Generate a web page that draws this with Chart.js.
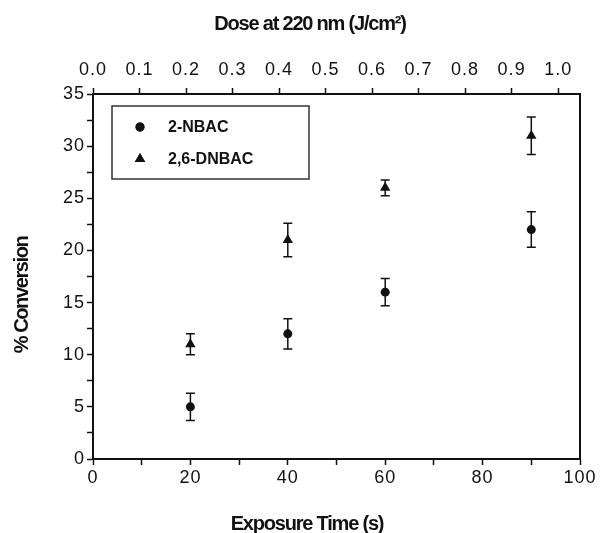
<!DOCTYPE html>
<html>
<head>
<meta charset="utf-8">
<script src="https://cdn.jsdelivr.net/npm/chart.js@4.4.1/dist/chart.umd.min.js"></script>
<style>
  html, body { margin: 0; padding: 0; background: #fff; }
  #wrap { width: 600px; height: 533px; position: relative; }
</style>
</head>
<body>
<div id="wrap"><canvas id="chart" width="600" height="533"></canvas></div>
<script>
// 数据：曝光时间 (s) 与转化率 (%)
const exposureTimes = [20, 40, 60, 90];
const nbacValues = [5, 12, 16, 22];
const nbacErrors = [1.3, 1.45, 1.3, 1.7];
const dnbacValues = [11, 21, 26, 31];
const dnbacErrors = [1.0, 1.6, 0.75, 1.8];
const seriesLabels = ['2-NBAC', '2,6-DNBAC'];
const seriesStyles = ['circle', 'triangle'];
const doseTicks = [0.0, 0.1, 0.2, 0.3, 0.4, 0.5, 0.6, 0.7, 0.8, 0.9, 1.0];
const xTitle = 'Exposure Time (s)';
const x2Title = 'Dose at 220 nm (J/cm²)';
const yTitle = '% Conversion';

const FONT = 'Liberation Sans, Arial, Helvetica, sans-serif';
const INK = '#111';

// 刻度文字略微加宽
const spacingPlugin = {
  id: 'tickSpacing',
  beforeUpdate(chart) { chart.ctx.letterSpacing = '1px'; },
  beforeDraw(chart) { chart.ctx.letterSpacing = '1px'; }
};

// 误差棒
const errorBarPlugin = {
  id: 'errorBars',
  afterDatasetsDraw(chart) {
    const ctx = chart.ctx;
    const yScale = chart.scales.y;
    chart.data.datasets.forEach((ds, i) => {
      const meta = chart.getDatasetMeta(i);
      meta.data.forEach((pt, j) => {
        const v = ds.data[j].y;
        const e = ds.errors[j];
        const top = yScale.getPixelForValue(v + e);
        const bot = yScale.getPixelForValue(v - e);
        ctx.save();
        ctx.strokeStyle = INK;
        ctx.lineWidth = 1.5;
        ctx.beginPath();
        ctx.moveTo(pt.x, top); ctx.lineTo(pt.x, bot);
        ctx.moveTo(pt.x - 4.5, top); ctx.lineTo(pt.x + 4.5, top);
        ctx.moveTo(pt.x - 4.5, bot); ctx.lineTo(pt.x + 4.5, bot);
        ctx.stroke();
        ctx.restore();
      });
    });
  }
};

// 图内图例框 + 紧凑的轴标题
const annotatePlugin = {
  id: 'annotate',
  afterDraw(chart) {
    const ctx = chart.ctx;
    const area = chart.chartArea;
    const bx = area.left + 19, by = area.top + 12, bw = 197, bh = 73;
    ctx.save();
    ctx.letterSpacing = '0px';
    ctx.strokeStyle = '#333';
    ctx.lineWidth = 1.5;
    ctx.strokeRect(bx, by, bw, bh);
    ctx.font = 'bold 16px ' + FONT;
    ctx.textBaseline = 'middle';
    chart.data.datasets.forEach((ds, i) => {
      const cy = by + 21 + i * 32;
      Chart.helpers.drawPoint(ctx, {
        pointStyle: ds.pointStyle,
        radius: ds.pointRadius,
        borderWidth: 0
      }, bx + 28, cy);
      ctx.fillStyle = INK;
      ctx.fill();
      ctx.fillText(ds.label, bx + 56, cy + 1);
    });

    ctx.font = 'bold 20px ' + FONT;
    ctx.letterSpacing = '-1.2px';
    ctx.textAlign = 'center';
    ctx.textBaseline = 'alphabetic';
    ctx.fillStyle = INK;
    ctx.fillText(x2Title, 310, 30);
    ctx.fillText(xTitle, 307, 530);
    ctx.translate(28, 295);
    ctx.rotate(-Math.PI / 2);
    ctx.letterSpacing = '-1.4px';
    ctx.fillText(yTitle, 0, 0);
    ctx.restore();
  }
};

const datasets = [nbacValues, dnbacValues].map((vals, i) => ({
  label: seriesLabels[i],
  data: vals.map((v, j) => ({ x: exposureTimes[j], y: v })),
  errors: i === 0 ? nbacErrors : dnbacErrors,
  pointStyle: seriesStyles[i],
  pointRadius: i === 0 ? 4.5 : 6,
  pointHoverRadius: i === 0 ? 4.5 : 6,
  backgroundColor: INK,
  borderColor: INK,
  borderWidth: 0,
  showLine: false
}));

function axisGrid() {
  return {
    drawOnChartArea: false,
    drawTicks: true,
    tickLength: 6,
    color: INK,
    tickWidth: 1.5
  };
}

const tickFont = { family: FONT, size: 18 };

new Chart(document.getElementById('chart').getContext('2d'), {
  type: 'scatter',
  data: { datasets: datasets },
  plugins: [spacingPlugin, errorBarPlugin, annotatePlugin],
  options: {
    responsive: false,
    animation: false,
    layout: { padding: 0 },
    plugins: {
      legend: { display: false },
      tooltip: { enabled: false }
    },
    scales: {
      x: {
        type: 'linear',
        position: 'bottom',
        min: 0,
        max: 100,
        afterFit(s) { s.height = 74; },
        ticks: {
          stepSize: 10,
          color: INK,
          padding: 2,
          maxRotation: 0,
          autoSkip: false,
          font: tickFont,
          callback: v => (v % 20 === 0 ? v : '')
        },
        grid: axisGrid(),
        border: { color: INK, width: 2 }
      },
      x2: {
        type: 'linear',
        position: 'top',
        min: 0,
        max: 1.047,
        afterFit(s) { s.height = 94; },
        afterBuildTicks(s) { s.ticks = doseTicks.map(v => ({ value: v })); },
        ticks: {
          color: INK,
          padding: 7,
          maxRotation: 0,
          autoSkip: false,
          font: tickFont,
          callback: v => v.toFixed(1)
        },
        grid: axisGrid(),
        border: { color: INK, width: 2 }
      },
      y: {
        type: 'linear',
        position: 'left',
        min: 0,
        max: 35,
        afterFit(s) { s.width = 93; },
        ticks: {
          stepSize: 2.5,
          color: INK,
          padding: 2,
          autoSkip: false,
          font: tickFont,
          callback: v => (v % 5 === 0 ? v : '')
        },
        grid: axisGrid(),
        border: { color: INK, width: 2 }
      },
      y2: {
        type: 'linear',
        position: 'right',
        display: true,
        min: 0,
        max: 35,
        afterFit(s) { s.width = 20; },
        ticks: { display: false },
        grid: { drawOnChartArea: false, drawTicks: false },
        border: { color: INK, width: 2 }
      }
    }
  }
});
</script>
</body>
</html>
